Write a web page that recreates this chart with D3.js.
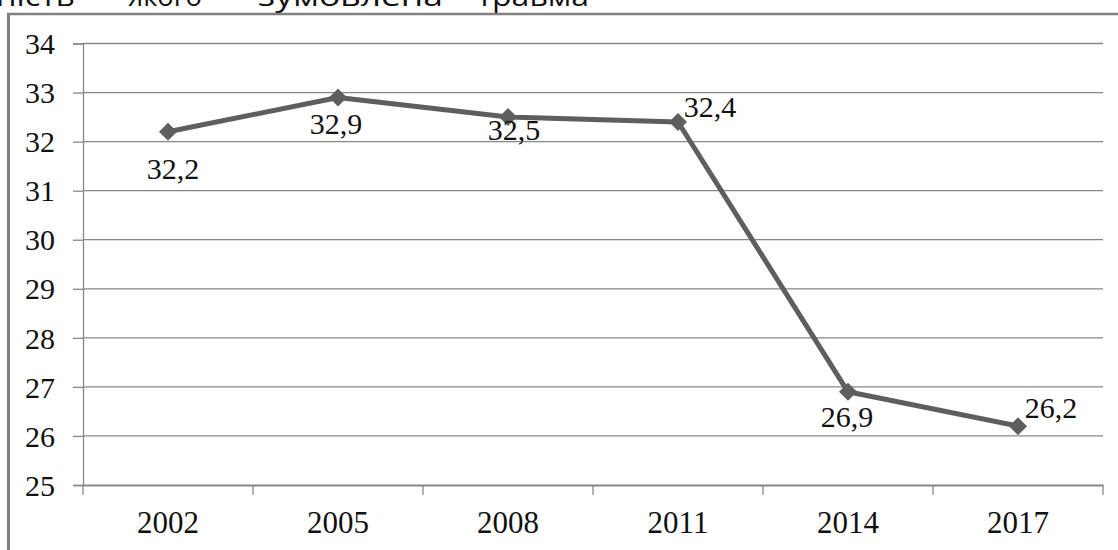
<!DOCTYPE html>
<html>
<head>
<meta charset="utf-8">
<script src="https://cdn.jsdelivr.net/npm/d3@7/dist/d3.min.js"></script>
<style>
  html, body { margin: 0; padding: 0; background: #fff; overflow: hidden; }
  svg { display: block; }
  .serif { font-family: "Liberation Serif", "Times New Roman", Tinos, "DejaVu Serif", serif; }
</style>
</head>
<body>
<svg id="chart" width="1118" height="550"></svg>
<script>
// Survey years and the share values for each year
const years = ["2002", "2005", "2008", "2011", "2014", "2017"];
const values = [32.2, 32.9, 32.5, 32.4, 26.9, 26.2];
const valueLabels = ["32,2", "32,9", "32,5", "32,4", "26,9", "26,2"];
const yTicks = [25, 26, 27, 28, 29, 30, 31, 32, 33, 34];
// Caption words along the top edge
const captionWords = ["ність", "якого", "зумовлена", "травма"];

// Where each value label sits relative to its point (dx, dy of text centre)
const labelOffsets = [[5, 37], [-2, 26], [6, 13], [32, -15], [-1, 25], [33, -18]];
// Caption word placement: start x and stretched width
const captionX = [-4, 128, 258, 477];
const captionW = [79, 74, 185, 112];

const svg = d3.select("#chart");
const W = 1118, H = 550;
const plotLeft = 83, plotRight = 1103, plotTop = 43.5, plotBottom = 485;

const x = d3.scaleBand().domain(years).range([plotLeft, plotRight]).padding(0);
const y = d3.scaleLinear().domain([25, 34]).range([plotBottom, plotTop]);

const gridColor = "#878787";

// Caption text, cut off by the top edge of the page
svg.append("g")
  .selectAll("text")
  .data(captionWords)
  .join("text")
  .attr("x", (d, i) => captionX[i])
  .attr("y", 6)
  .attr("textLength", (d, i) => captionW[i])
  .attr("lengthAdjust", "spacingAndGlyphs")
  .style("font-family", "'Open Sans', 'Noto Sans', sans-serif")
  .style("font-size", "28px")
  .attr("fill", "#111")
  .text(d => d);

// Outer chart frame (left and top edges)
svg.append("line")
  .attr("x1", 8.5).attr("x2", 8.5).attr("y1", 13).attr("y2", H)
  .attr("stroke", "#808080").attr("stroke-width", 3);
svg.append("line")
  .attr("x1", 7).attr("x2", W).attr("y1", 14).attr("y2", 14)
  .attr("stroke", "#808080").attr("stroke-width", 2.5);

// Horizontal gridlines
svg.append("g")
  .selectAll("line")
  .data(yTicks.filter(t => t > 25))
  .join("line")
  .attr("x1", plotLeft).attr("x2", plotRight)
  .attr("y1", d => y(d)).attr("y2", d => y(d))
  .attr("stroke", gridColor).attr("stroke-width", 1.3);

// Y axis
const yAxis = svg.append("g")
  .attr("transform", `translate(${plotLeft},0)`)
  .call(d3.axisLeft(y).tickValues(yTicks).tickSize(10).tickPadding(18).tickFormat(d3.format("d")));
yAxis.attr("font-family", null).attr("font-size", null);
yAxis.select(".domain").attr("stroke", gridColor).attr("stroke-width", 1.3);
yAxis.selectAll(".tick line").attr("stroke", gridColor).attr("stroke-width", 1.3);
yAxis.selectAll(".tick text")
  .attr("class", "serif").style("font-size", "30px").attr("fill", "#111")
  .attr("dy", "0.34em");

// X axis with tick marks on category boundaries
const xAxis = svg.append("g")
  .attr("transform", `translate(0,${plotBottom})`)
  .call(d3.axisBottom(x).tickSize(0).tickPadding(26));
xAxis.attr("font-family", null).attr("font-size", null);
xAxis.select(".domain").attr("stroke", gridColor).attr("stroke-width", 2);
xAxis.selectAll(".tick text")
  .attr("class", "serif").style("font-size", "31px").attr("fill", "#111");
const bounds = years.map(d => x(d)).concat([x(years[years.length - 1]) + x.bandwidth()]);
xAxis.append("g")
  .selectAll("line")
  .data(bounds)
  .join("line")
  .attr("x1", d => d).attr("x2", d => d)
  .attr("y1", 0).attr("y2", 10)
  .attr("stroke", gridColor).attr("stroke-width", 1.3);

// Series line
const pts = years.map((yr, i) => ({ yr, v: values[i], label: valueLabels[i], off: labelOffsets[i] }));
const cx = d => x(d.yr) + x.bandwidth() / 2;

svg.append("path")
  .datum(pts)
  .attr("fill", "none")
  .attr("stroke", "#5e5e5e")
  .attr("stroke-width", 5)
  .attr("stroke-linejoin", "round")
  .attr("d", d3.line().x(cx).y(d => y(d.v)));

// Diamond markers
svg.append("g")
  .selectAll("path")
  .data(pts)
  .join("path")
  .attr("transform", d => `translate(${cx(d)},${y(d.v)})`)
  .attr("d", "M0,-9L9,0L0,9L-9,0Z")
  .attr("fill", "#5e5e5e");

// Value labels
svg.append("g")
  .selectAll("text")
  .data(pts)
  .join("text")
  .attr("class", "serif")
  .attr("x", d => cx(d) + d.off[0])
  .attr("y", d => y(d.v) + d.off[1])
  .attr("dy", "0.34em")
  .attr("text-anchor", "middle")
  .style("font-size", "30px")
  .attr("fill", "#111")
  .text(d => d.label);
</script>
</body>
</html>
